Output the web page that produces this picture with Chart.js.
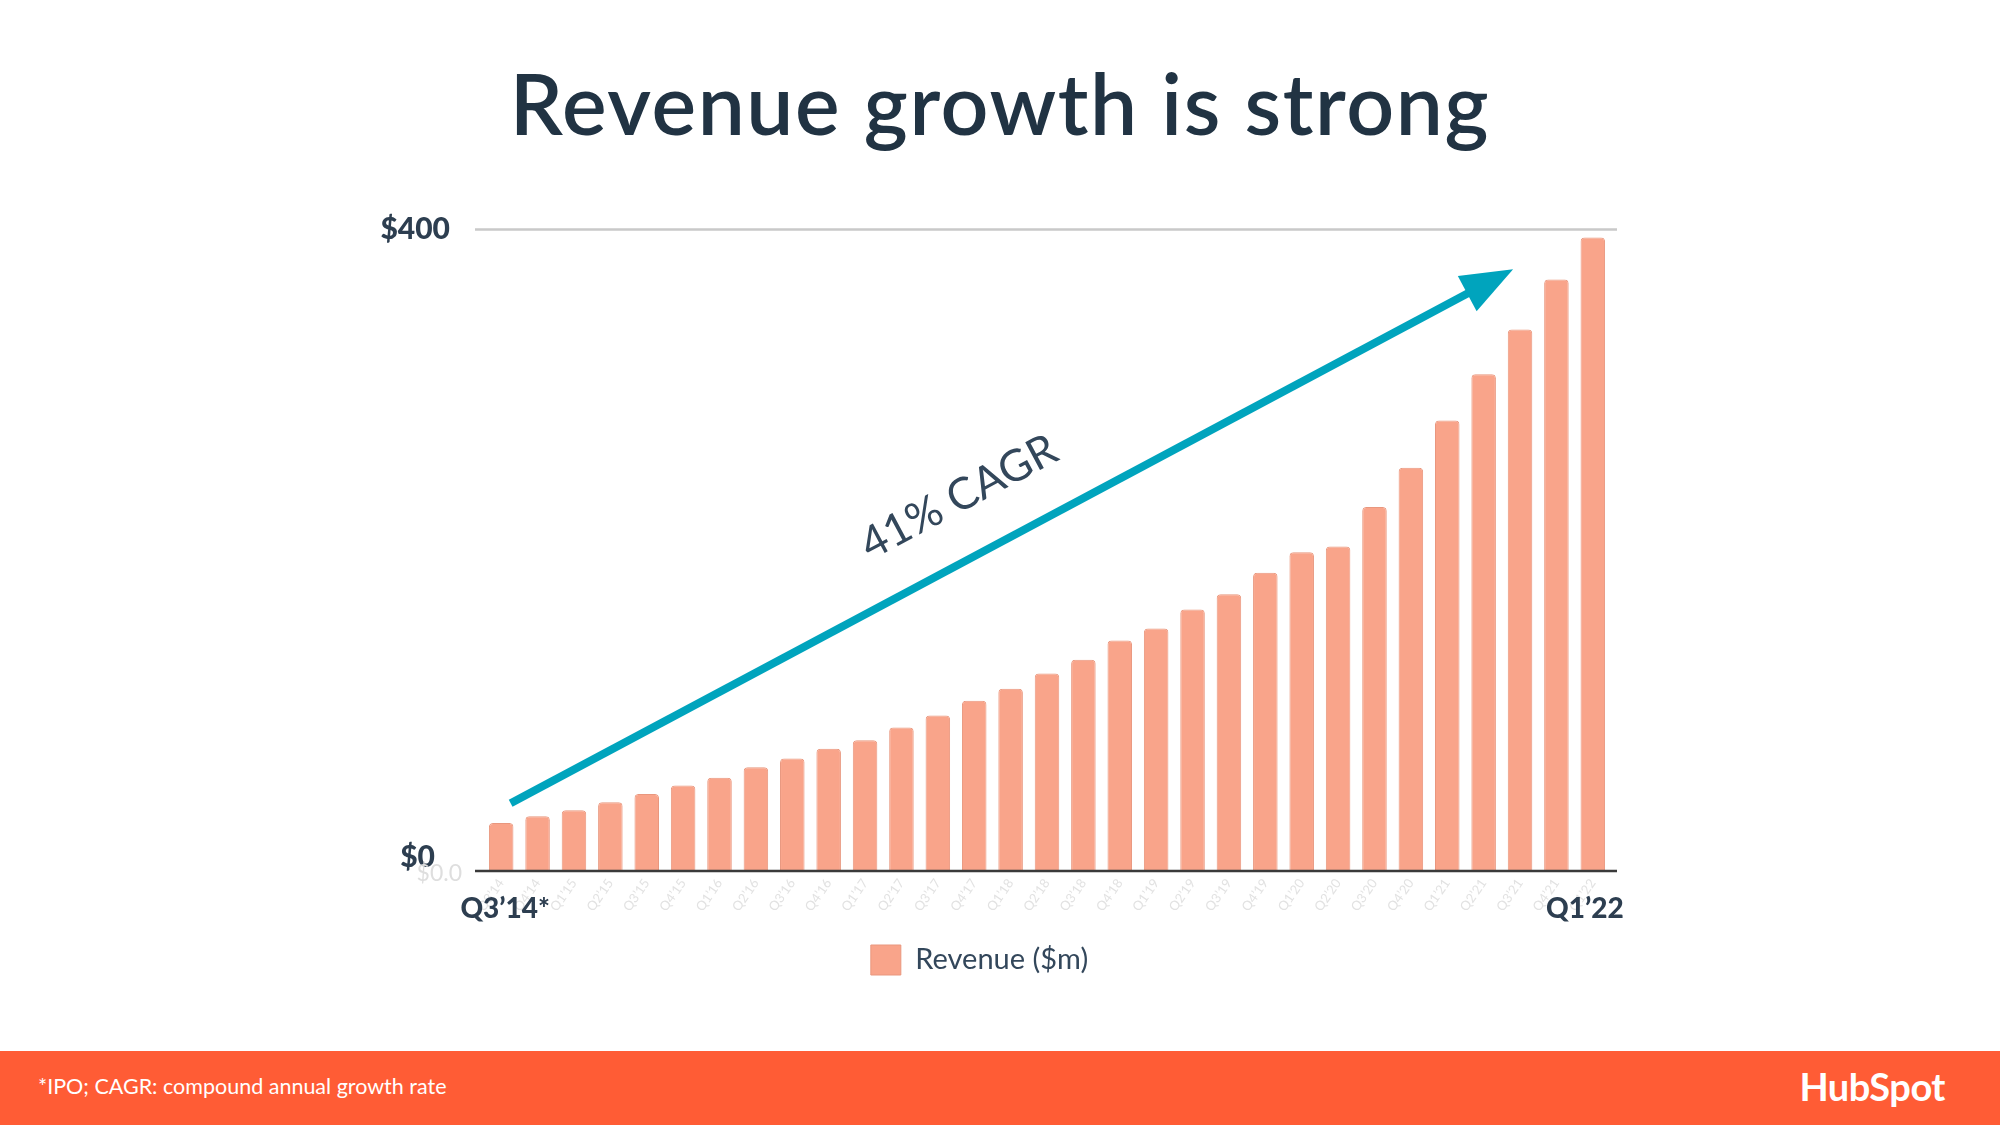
<!DOCTYPE html>
<html>
<head>
<meta charset="utf-8">
<title>Revenue growth is strong</title>
<script src="https://cdn.jsdelivr.net/npm/chart.js@4.4.1/dist/chart.umd.min.js"></script>
<style>
    html, body { margin: 0; padding: 0; background: #fff; }
    body { width: 2000px; height: 1125px; position: relative; overflow: hidden; font-family: Lato, sans-serif; }
    #title { position: absolute; left: 0; top: 61px; width: 2000px; text-align: center; font-size: 84px; font-weight: 600; letter-spacing: 1.6px; line-height: 1; color: #213343; }
    #chart-wrap { position: absolute; left: 348px; top: 183px; width: 1280px; height: 802px; }
    #footer { position: absolute; left: 0; top: 1051px; width: 2000px; height: 74px; background: #ff5c35; }
    #note { position: absolute; left: 38px; top: 25px; font-size: 21.5px; line-height: 1; color: #fff; }
    #logo { position: absolute; right: 55px; top: 16px; font-size: 38px; line-height: 1; font-weight: 700; color: #fff; letter-spacing: -0.5px; }
</style>
</head>
<body>
<div id="title">Revenue growth is strong</div>
<div id="chart-wrap"><canvas id="revenueChart"></canvas></div>
<div id="footer">
    <div id="note">*IPO; CAGR: compound annual growth rate</div>
    <div id="logo">HubSpot</div>
</div>

<script>
// Quarter labels (shown faintly under the bars)
const quarters = [
    'Q3’14', 'Q4’14',
    'Q1’15', 'Q2’15', 'Q3’15', 'Q4’15',
    'Q1’16', 'Q2’16', 'Q3’16', 'Q4’16',
    'Q1’17', 'Q2’17', 'Q3’17', 'Q4’17',
    'Q1’18', 'Q2’18', 'Q3’18', 'Q4’18',
    'Q1’19', 'Q2’19', 'Q3’19', 'Q4’19',
    'Q1’20', 'Q2’20', 'Q3’20', 'Q4’20',
    'Q1’21', 'Q2’21', 'Q3’21', 'Q4’21',
    'Q1’22'
];

// Revenue ($m)
const revenue = [
    29.9, 34.1,
    37.9, 42.8, 48.0, 53.3,
    58.2, 64.7, 70.1, 76.3,
    81.5, 89.4, 96.9, 106.2,
    113.7, 123.1, 131.8, 143.7,
    151.2, 163.0, 172.6, 185.9,
    198.7, 202.4, 226.9, 251.4,
    280.9, 309.8, 337.7, 368.8,
    395.0
];

// Y axis ticks
const yTickValues = [0, 400];
const yTickLabels = ['$0', '$400'];

// Bold labels at both ends of the x axis
const edgeLabels = ['Q3’14*', 'Q1’22'];

// Arrow annotation, in (bar index, $m)
const arrowFrom = [0.26, 42.2];
const arrowTo = [27.81, 375.2];
const cagrText = '41% CAGR';
const cagrAt = [12.58, 233];

// Colors
const colors = {
    bar: '#f9a48a',
    barEdge: '#e9977e',
    navy: '#2d3e50',
    text: '#33475b',
    teal: '#00a4bd',
    grid: '#c9c9c9',
    axis: '#3a3a3a',
    ghost: '#e2e2e2'
};

const overlay = {
    id: 'overlay',
    beforeDatasetsDraw(chart) {
        const { ctx, chartArea: a, scales: { y } } = chart;
        const yTop = y.getPixelForValue(400);
        ctx.save();
        ctx.strokeStyle = colors.grid;
        ctx.lineWidth = 2.5;
        ctx.beginPath();
        ctx.moveTo(a.left - 8, yTop);
        ctx.lineTo(a.right + 6, yTop);
        ctx.stroke();

        // faint leftover label behind $0
        const y0 = y.getPixelForValue(0);
        ctx.fillStyle = '#dedede';
        ctx.font = '23px Lato';
        ctx.textAlign = 'right';
        ctx.textBaseline = 'middle';
        ctx.fillText('$0.0', a.left - 21, y0 + 3);
        ctx.restore();
    },
    afterDatasetsDraw(chart) {
        const { ctx, chartArea: a, scales: { x, y } } = chart;
        ctx.save();

        // axis line at zero
        const y0 = y.getPixelForValue(0);
        ctx.strokeStyle = colors.axis;
        ctx.lineWidth = 2.5;
        ctx.beginPath();
        ctx.moveTo(a.left - 8, y0);
        ctx.lineTo(a.right + 6, y0);
        ctx.stroke();

        // first / last quarter labels
        ctx.fillStyle = colors.navy;
        ctx.font = '900 28px Lato';
        ctx.textAlign = 'center';
        ctx.textBaseline = 'middle';
        ctx.fillText(edgeLabels[0], x.getPixelForValue(0) + 4, y0 + 38);
        ctx.fillText(edgeLabels[1], x.getPixelForValue(quarters.length - 1) - 8, y0 + 38);

        // arrow
        const x1 = x.getPixelForValue(arrowFrom[0]), y1 = y.getPixelForValue(arrowFrom[1]);
        const x2 = x.getPixelForValue(arrowTo[0]), y2 = y.getPixelForValue(arrowTo[1]);
        const ang = Math.atan2(y2 - y1, x2 - x1);
        const headLen = 52, headW = 40;
        const bx = x2 - headLen * Math.cos(ang), by = y2 - headLen * Math.sin(ang);
        ctx.strokeStyle = colors.teal;
        ctx.fillStyle = colors.teal;
        ctx.lineWidth = 8;
        ctx.beginPath();
        ctx.moveTo(x1, y1);
        ctx.lineTo(bx + 4 * Math.cos(ang), by + 4 * Math.sin(ang));
        ctx.stroke();
        ctx.beginPath();
        ctx.moveTo(x2, y2);
        ctx.lineTo(bx + headW / 2 * Math.sin(ang), by - headW / 2 * Math.cos(ang));
        ctx.lineTo(bx - headW / 2 * Math.sin(ang), by + headW / 2 * Math.cos(ang));
        ctx.closePath();
        ctx.fill();

        // CAGR label along the arrow
        ctx.translate(x.getPixelForValue(cagrAt[0]), y.getPixelForValue(cagrAt[1]));
        ctx.rotate(ang);
        ctx.fillStyle = colors.text;
        ctx.font = '400 44px Lato';
        ctx.textAlign = 'center';
        ctx.textBaseline = 'middle';
        ctx.fillText(cagrText, 0, 0);

        ctx.restore();
    }
};

const ctx = document.getElementById('revenueChart').getContext('2d');
new Chart(ctx, {
    type: 'bar',
    data: {
        labels: quarters,
        datasets: [{
            label: 'Revenue ($m)',
            data: revenue,
            backgroundColor: colors.bar,
            borderColor: colors.barEdge,
            borderWidth: 1,
            borderSkipped: 'bottom',
            borderRadius: { topLeft: 4, topRight: 4 },
            categoryPercentage: 1,
            barPercentage: 0.674
        }]
    },
    options: {
        responsive: true,
        maintainAspectRatio: false,
        animation: false,
        layout: { padding: { top: 8, right: 17, left: 0, bottom: 0 } },
        plugins: {
            legend: {
                position: 'bottom',
                labels: {
                    boxWidth: 30,
                    boxHeight: 30,
                    padding: 14,
                    color: colors.text,
                    font: { family: 'Lato', size: 29 }
                }
            },
            tooltip: { enabled: false }
        },
        scales: {
            x: {
                grid: { display: false, drawTicks: false },
                border: { display: false },
                ticks: {
                    color: colors.ghost,
                    font: { family: 'Lato', size: 13 },
                    autoSkip: false,
                    minRotation: 55,
                    maxRotation: 55,
                    padding: 5
                },
                afterFit(scale) { scale.height = 60; }
            },
            y: {
                min: 0,
                max: 400,
                grid: { display: false, drawTicks: false },
                border: { display: false },
                afterBuildTicks(scale) { scale.ticks = yTickValues.map(v => ({ value: v })); },
                ticks: {
                    color: colors.navy,
                    font: { family: 'Lato', size: 30, weight: '900', lineHeight: 0.9 },
                    padding: 33,
                    // the $0 label sits a little above and left of the axis line
                    callback: v => v === 0 ? [yTickLabels[0] + '\u2002', ''] : yTickLabels[yTickValues.indexOf(v)]
                },
                afterFit(scale) { scale.width = 135; }
            }
        }
    },
    plugins: [overlay]
});
</script>
</body>
</html>
